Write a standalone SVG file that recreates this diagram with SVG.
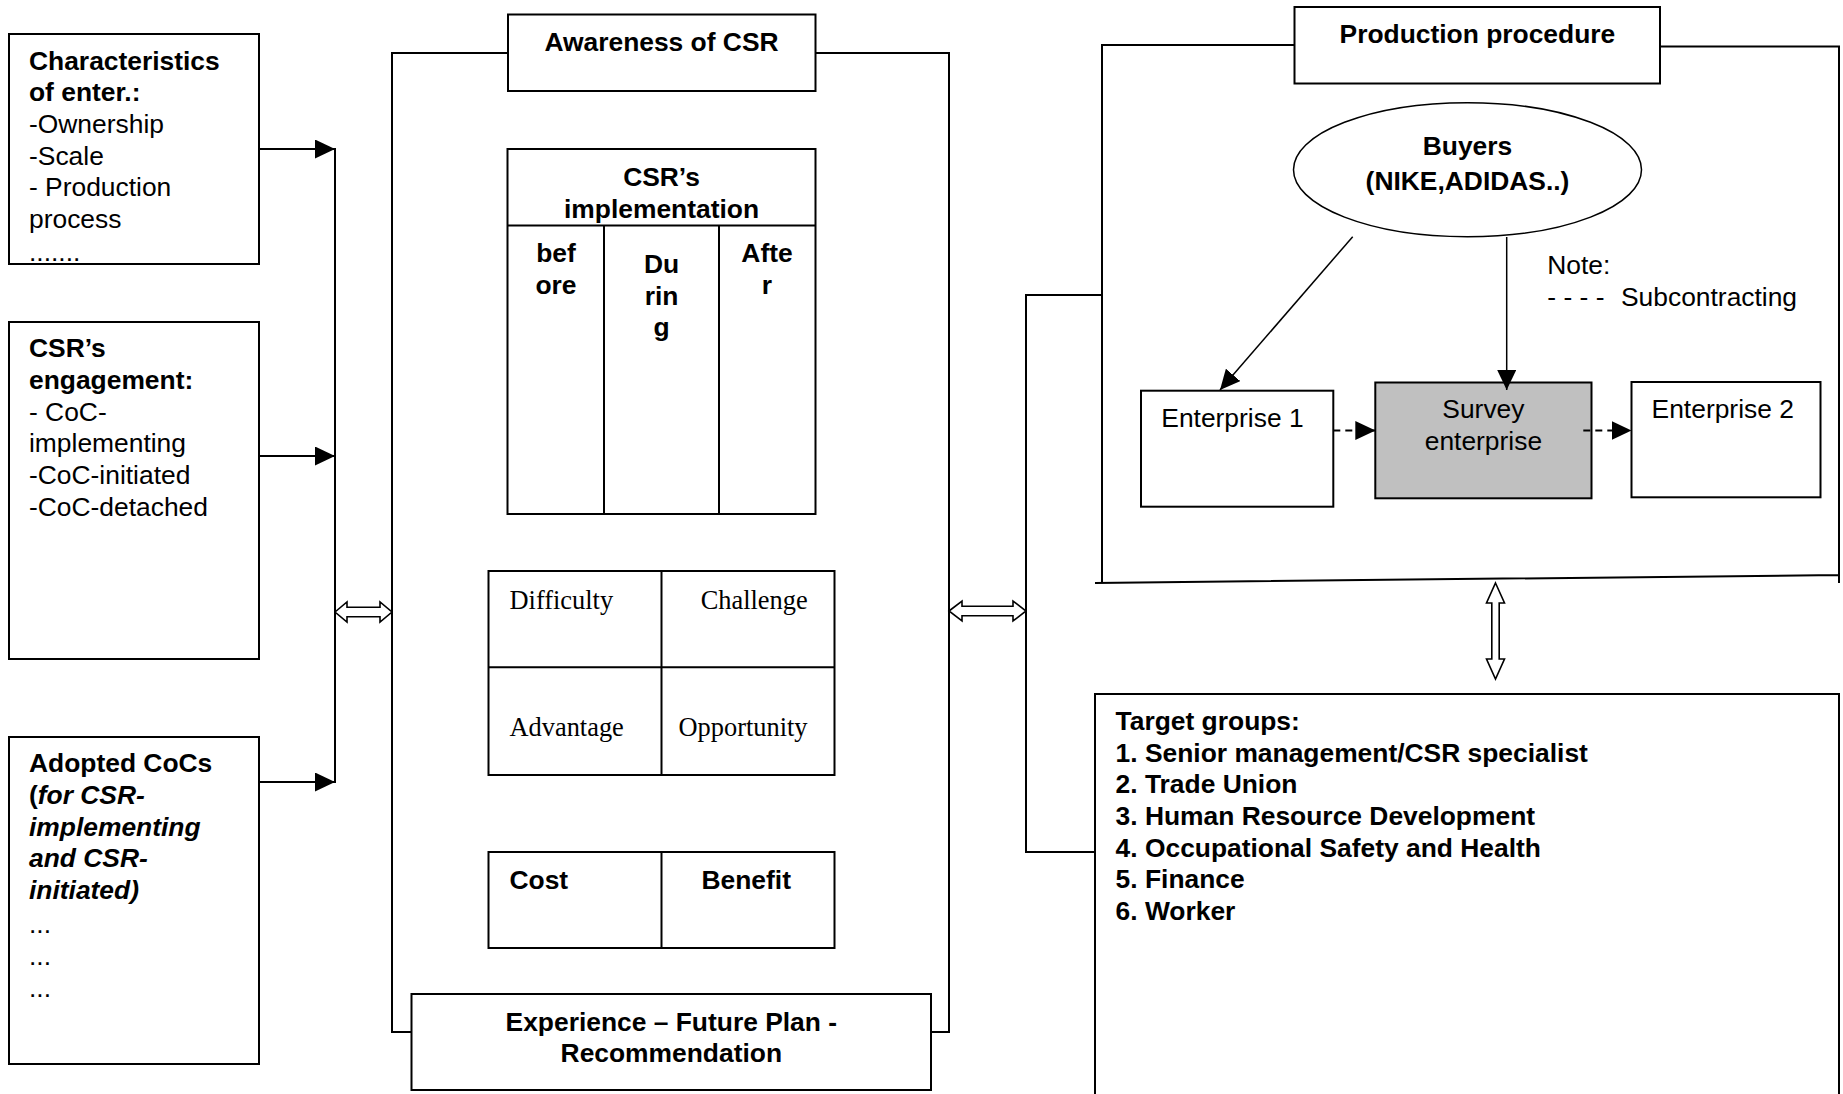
<svg xmlns="http://www.w3.org/2000/svg" width="1843" height="1094" viewBox="0 0 1843 1094">
<style>
  .box { fill: #ffffff; stroke: #000000; stroke-width: 2; }
  .ln { fill: none; stroke: #000000; stroke-width: 2; }
  .thin { fill: none; stroke: #000000; stroke-width: 1.5; }
  .dash { fill: none; stroke: #000000; stroke-width: 2; stroke-dasharray: 7 5; }
  .dbl { fill: #ffffff; stroke: #000000; stroke-width: 1.6; stroke-linejoin: miter; }
  text { font-family: "Liberation Sans", Arial, sans-serif; font-size: 26.4px; fill: #000000; }
  .b { font-weight: bold; }
  .bi { font-weight: bold; font-style: italic; }
  .serif { font-family: "Liberation Serif", "Times New Roman", serif; }
  .mid { text-anchor: middle; }
</style>
<defs>
  <marker id="arr" markerUnits="userSpaceOnUse" markerWidth="20" markerHeight="19" refX="20" refY="9.5" orient="auto">
    <path d="M0,0 L20,9.5 L0,19 z" fill="#000000"/>
  </marker>
</defs>

<!-- Frames -->
<g id="center-frame">
  <rect x="392" y="53" width="557" height="979" class="ln"/>
</g>
<g id="right-frame">
  <path class="ln" d="M1294,45 H1102 V583 M1660,46.5 H1839 V583 M1095,583 L1839,575"/>
</g>

<!-- Left nodes -->
<g id="characteristics">
  <rect x="9" y="34" width="250" height="230" class="box"/>
  <text x="29" y="69.5" class="b">Characteristics</text>
  <text x="29" y="101.2" class="b">of enter.:</text>
  <text x="29" y="132.9">-Ownership</text>
  <text x="29" y="164.6">-Scale</text>
  <text x="29" y="196.3">- Production</text>
  <text x="29" y="228">process</text>
  <text x="29" y="260.5">.......</text>
</g>
<g id="engagement">
  <rect x="9" y="322" width="250" height="337" class="box"/>
  <text x="29" y="357.3" class="b">CSR’s</text>
  <text x="29" y="389" class="b">engagement:</text>
  <text x="29" y="420.7">- CoC-</text>
  <text x="29" y="452.4">implementing</text>
  <text x="29" y="484.1">-CoC-initiated</text>
  <text x="29" y="515.8">-CoC-detached</text>
</g>
<g id="adopted-cocs">
  <rect x="9" y="737" width="250" height="327" class="box"/>
  <text x="29" y="772.3" class="b">Adopted CoCs</text>
  <text x="29" y="804" class="b">(<tspan class="bi">for CSR-</tspan></text>
  <text x="29" y="835.7" class="bi">implementing</text>
  <text x="29" y="867.4" class="bi">and CSR-</text>
  <text x="29" y="899.1" class="bi">initiated)</text>
  <text x="29" y="932.5">...</text>
  <text x="29" y="964.5">...</text>
  <text x="29" y="996.5">...</text>
</g>

<!-- Center nodes -->
<g id="awareness">
  <rect x="508" y="14.5" width="307.5" height="76.5" class="box"/>
  <text x="661.5" y="51" class="b mid">Awareness of CSR</text>
</g>
<g id="implementation">
  <rect x="507.5" y="149" width="308" height="365" class="box"/>
  <path class="ln" d="M507.5,225.5 H815.5 M604,225.5 V514 M719,225.5 V514"/>
  <text x="661.5" y="186" class="b mid">CSR’s</text>
  <text x="661.5" y="217.6" class="b mid">implementation</text>
  <text x="556" y="262.4" class="b mid">bef</text>
  <text x="556" y="294" class="b mid">ore</text>
  <text x="661.5" y="273" class="b mid">Du</text>
  <text x="661.5" y="304.7" class="b mid">rin</text>
  <text x="661.5" y="336.4" class="b mid">g</text>
  <text x="767" y="262.4" class="b mid">Afte</text>
  <text x="767" y="294" class="b mid">r</text>
</g>
<g id="difficulty-grid">
  <rect x="488.5" y="571" width="346" height="204" class="box"/>
  <path class="ln" d="M661.5,571 V775 M488.5,667.2 H834.5"/>
  <text x="509.5" y="608.9" class="serif">Difficulty</text>
  <text x="700.7" y="608.9" class="serif">Challenge</text>
  <text x="509.5" y="736.1" class="serif">Advantage</text>
  <text x="678.5" y="736.1" class="serif">Opportunity</text>
</g>
<g id="cost-benefit">
  <rect x="488.5" y="852" width="346" height="96" class="box"/>
  <path class="ln" d="M661.5,852 V948"/>
  <text x="509.5" y="889.1" class="b">Cost</text>
  <text x="701.5" y="889.1" class="b">Benefit</text>
</g>
<g id="experience">
  <rect x="411.5" y="994" width="519.5" height="96" class="box"/>
  <text x="671.3" y="1031.2" class="b mid">Experience – Future Plan -</text>
  <text x="671.3" y="1062.3" class="b mid">Recommendation</text>
</g>

<!-- Right nodes -->
<g id="production-procedure">
  <rect x="1294.5" y="7" width="365.5" height="76.5" class="box"/>
  <text x="1477.4" y="43.3" class="b mid">Production procedure</text>
</g>
<g id="buyers">
  <ellipse cx="1467.5" cy="169.7" rx="174" ry="67" class="box" style="stroke-width:1.5"/>
  <text x="1467.5" y="155" class="b mid">Buyers</text>
  <text x="1467.5" y="190" class="b mid">(NIKE,ADIDAS..)</text>
</g>
<g id="note">
  <text x="1547.3" y="274">Note:</text>
  <text x="1547.3" y="306">- - - -<tspan x="1621">Subcontracting</tspan></text>
</g>
<g id="enterprise-1">
  <rect x="1141" y="390.7" width="192.3" height="116" class="box"/>
  <text x="1161.3" y="427.3">Enterprise 1</text>
</g>
<g id="survey-enterprise">
  <rect x="1375.3" y="382.5" width="216.2" height="115.8" class="box" style="fill:#c0c0c0"/>
  <text x="1483.4" y="418.3" class="mid">Survey</text>
  <text x="1483.4" y="450" class="mid">enterprise</text>
</g>
<g id="enterprise-2">
  <rect x="1631.5" y="382" width="189" height="115.3" class="box"/>
  <text x="1651.6" y="418.3">Enterprise 2</text>
</g>
<g id="target-groups">
  <path class="ln" d="M1095,1100 V694 H1839 V1100"/>
  <text x="1115.6" y="730" class="b">Target groups:</text>
  <text x="1115.6" y="761.7" class="b">1. Senior management/CSR specialist</text>
  <text x="1115.6" y="793.3" class="b">2. Trade Union</text>
  <text x="1115.6" y="825" class="b">3. Human Resource Development</text>
  <text x="1115.6" y="856.7" class="b">4. Occupational Safety and Health</text>
  <text x="1115.6" y="888.3" class="b">5. Finance</text>
  <text x="1115.6" y="920" class="b">6. Worker</text>
</g>

<!-- Connectors -->
<g id="connectors">
  <line x1="259" y1="149" x2="335" y2="149" class="ln" marker-end="url(#arr)"/>
  <line x1="259" y1="456" x2="335" y2="456" class="ln" marker-end="url(#arr)"/>
  <line x1="259" y1="782" x2="335" y2="782" class="ln" marker-end="url(#arr)"/>
  <line x1="335" y1="148" x2="335" y2="783" class="ln"/>
  <polygon class="dbl" points="335,612 347,602 347,607.3 380,607.3 380,602 392,612 380,622 380,616.7 347,616.7 347,622"/>
  <polygon class="dbl" points="949,611 962,601 962,606.3 1013,606.3 1013,601 1026,611 1013,621 1013,615.7 962,615.7 962,621"/>
  <path class="ln" d="M1102,295 H1026 V852 H1095"/>
  <line x1="1352.7" y1="236.7" x2="1220" y2="390" class="thin" marker-end="url(#arr)"/>
  <line x1="1506.7" y1="237" x2="1506.7" y2="390" class="thin" marker-end="url(#arr)"/>
  <line x1="1333.3" y1="430.5" x2="1375.3" y2="430.5" class="dash" marker-end="url(#arr)"/>
  <line x1="1583.3" y1="430.5" x2="1631.5" y2="430.5" class="dash" marker-end="url(#arr)"/>
  <polygon class="dbl" points="1495.5,583 1504.5,603 1499.2,603 1499.2,659 1504.5,659 1495.5,679 1486.5,659 1491.8,659 1491.8,603 1486.5,603"/>
</g>
</svg>
